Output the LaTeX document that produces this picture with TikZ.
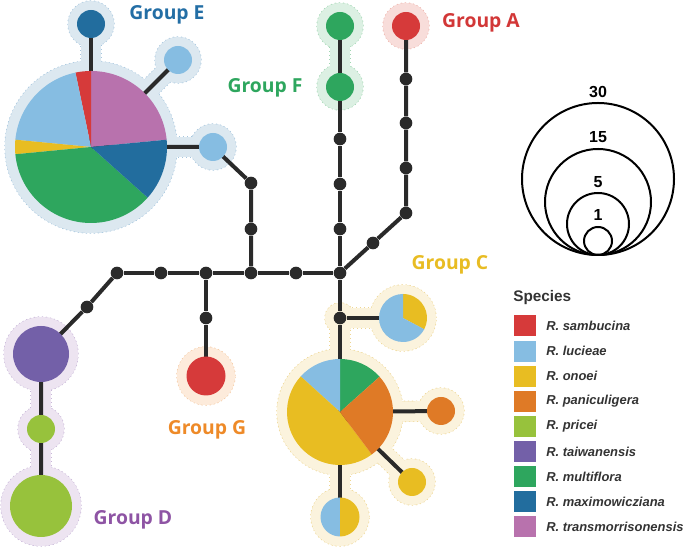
\documentclass[tikz,border=0pt]{standalone}
\usepackage{fontspec}
\setmainfont{Liberation Sans}
\newfontfamily\grpfont{Open Sans}
\usetikzlibrary{calc}
\definecolor{cRed}{HTML}{D63A3A}
\definecolor{cLBlue}{HTML}{86BDE2}
\definecolor{cYel}{HTML}{E8BD22}
\definecolor{cOra}{HTML}{DF7A26}
\definecolor{cLGreen}{HTML}{97C23C}
\definecolor{cPur}{HTML}{7360A8}
\definecolor{cGreen}{HTML}{2EA65E}
\definecolor{cDBlue}{HTML}{226D9E}
\definecolor{cPink}{HTML}{B872AD}
\definecolor{cEdge}{HTML}{2A2A2A}
\definecolor{tE}{HTML}{236EA5}
\definecolor{tF}{HTML}{2EA65E}
\definecolor{tA}{HTML}{D23737}
\definecolor{tC}{HTML}{E8BC23}
\definecolor{tD}{HTML}{8E54A4}
\definecolor{tG}{HTML}{EE8A28}
\definecolor{hE}{HTML}{DCE8F0}\definecolor{bE}{HTML}{A6C6DE}
\definecolor{hF}{HTML}{DCF0E3}\definecolor{bF}{HTML}{A0D6B2}
\definecolor{hA}{HTML}{F8DDDA}\definecolor{bA}{HTML}{EEB2AA}
\definecolor{hC}{HTML}{FBF3DD}\definecolor{bC}{HTML}{EED692}
\definecolor{hD}{HTML}{EDE4F1}\definecolor{bD}{HTML}{C8B6D8}
\definecolor{hG}{HTML}{FDEBDB}\definecolor{bG}{HTML}{F4C8A0}
\definecolor{cText}{HTML}{333333}
\pgfdeclarelayer{halo}
\pgfdeclarelayer{halofill}
\pgfdeclarelayer{edges}
\pgfsetlayers{halo,halofill,edges,main}
\newcommand\slice[5]{\fill[#5] (#1) -- ++(#3:#2) arc[start angle=#3, end angle=#4, radius=#2] -- cycle;}
\newcommand\hcirc[3]{\path[#1] (#2) circle[radius=#3];}
\newcommand\hbridge[3]{\path[#1] ($(#2)!7.5pt!90:(#3)$) -- ($(#3)!7.5pt!-90:(#2)$) -- ($(#3)!7.5pt!90:(#2)$) -- ($(#2)!7.5pt!-90:(#3)$) -- cycle;}
\newcommand\haloE[1]{\hcirc{#1}{Ec}{86}\hcirc{#1}{Et}{23}\hcirc{#1}{Eur}{23}\hcirc{#1}{Er}{23}\hbridge{#1}{Ec}{Et}\hbridge{#1}{Ec}{Eur}\hbridge{#1}{Ec}{Er}}
\newcommand\haloF[1]{\hcirc{#1}{F1}{23}\hcirc{#1}{F2}{23}\hbridge{#1}{F1}{F2}}
\newcommand\haloA[1]{\hcirc{#1}{A}{23}}
\newcommand\haloG[1]{\hcirc{#1}{G}{29}}
\newcommand\haloD[1]{\hcirc{#1}{Dp}{37}\hcirc{#1}{Ds}{23}\hcirc{#1}{Db}{40}\hbridge{#1}{Dp}{Ds}\hbridge{#1}{Ds}{Db}}
\newcommand\haloC[1]{\hcirc{#1}{Cc}{63}\hcirc{#1}{Csp}{33}\hcirc{#1}{Co}{23}\hcirc{#1}{Cy}{23}\hcirc{#1}{Cb}{29}\hcirc{#1}{C1}{15}\hbridge{#1}{C1}{Cc}\hbridge{#1}{C1}{Csp}\hbridge{#1}{Cc}{Co}\hbridge{#1}{Cc}{Cy}\hbridge{#1}{Cc}{Cb}}
\tikzset{
  dot/.style={circle, fill=cEdge, inner sep=0pt, minimum size=9.5pt},
  edge/.style={draw=cEdge, line width=3pt},
  grp/.style={font=\grpfont\bfseries\fontsize{14.5}{17}\selectfont},
  hb/.style={fill=#1, draw=#1, dotted, line width=1pt},
  hf/.style={fill=#1},
  lgtext/.style={anchor=west, text=cText, font=\bfseries\itshape\fontsize{9.7}{11}\selectfont},
  sizec/.style={draw=black, line width=1.5pt},
  sizel/.style={font=\bfseries\fontsize{12}{14}\selectfont}
}
\begin{document}
\begin{tikzpicture}[x=0.75pt,y=0.75pt]
\useasboundingbox (0,0) rectangle (685,548);
% haplotype centres
\coordinate (Ec) at (91,401);
\coordinate (Et) at (91,524);
\coordinate (Eur) at (178,488);
\coordinate (Er) at (213,401);
\coordinate (F1) at (340,522);
\coordinate (F2) at (340,461);
\coordinate (A) at (406,522);
\coordinate (Cc) at (340,136);
\coordinate (Csp) at (403,230);
\coordinate (Co) at (441,137);
\coordinate (Cy) at (412,66);
\coordinate (Cb) at (340,31);
\coordinate (C1) at (340,230);
\coordinate (Dp) at (41,194);
\coordinate (Ds) at (41,119);
\coordinate (Db) at (41,42);
\coordinate (G) at (206,172);
% halos
\begin{pgfonlayer}{halo}
\haloE{hb=bE}\haloF{hb=bF}\haloA{hb=bA}\haloG{hb=bG}\haloD{hb=bD}\haloC{hb=bC}
\end{pgfonlayer}
\begin{pgfonlayer}{halofill}
\haloE{hf=hE}\haloF{hf=hF}\haloA{hf=hA}\haloG{hf=hG}\haloD{hf=hD}\haloC{hf=hC}
\end{pgfonlayer}
% median vectors
\node[dot] (b1) at (117,275) {};
\node[dot] (b2) at (161,275) {};
\node[dot] (b3) at (206,275) {};
\node[dot] (b4) at (251,275) {};
\node[dot] (b5) at (296,275) {};
\node[dot] (J) at (340,275) {};
\node[dot] (d1) at (87,241) {};
\node[dot] (g1) at (206,230) {};
\node[dot] (e1) at (251,319) {};
\node[dot] (e2) at (251,365) {};
\node[dot] (f1) at (340,319) {};
\node[dot] (f2) at (340,364) {};
\node[dot] (f3) at (340,409) {};
\node[dot] (a1) at (373,305) {};
\node[dot] (a2) at (406,335) {};
\node[dot] (a3) at (406,380) {};
\node[dot] (a4) at (406,425) {};
\node[dot] (a5) at (406,469) {};
\node[dot] (c1) at (C1) {};
% edges
\begin{pgfonlayer}{edges}
\draw[edge] (b1) -- (b2) -- (b3) -- (b4) -- (b5) -- (J);
\draw[edge] (b1) -- (d1) -- (Dp) -- (Ds) -- (Db);
\draw[edge] (b3) -- (g1) -- (G);
\draw[edge] (b4) -- (e1) -- (e2) -- (Er) -- (Ec);
\draw[edge] (Ec) -- (Et);
\draw[edge] (Ec) -- (Eur);
\draw[edge] (J) -- (f1) -- (f2) -- (f3) -- (F2) -- (F1);
\draw[edge] (J) -- (a1) -- (a2) -- (a3) -- (a4) -- (a5) -- (A);
\draw[edge] (J) -- (c1) -- (Cc);
\draw[edge] (c1) -- (Csp);
\draw[edge] (Cc) -- (Co);
\draw[edge] (Cc) -- (Cy);
\draw[edge] (Cc) -- (Cb);
\end{pgfonlayer}
% Group E
\slice{Ec}{76}{5.5}{90}{cPink}
\slice{Ec}{76}{90}{101.8}{cRed}
\slice{Ec}{76}{101.8}{174.5}{cLBlue}
\slice{Ec}{76}{174.5}{185.5}{cYel}
\slice{Ec}{76}{185.5}{318.2}{cGreen}
\slice{Ec}{76}{318.2}{365.5}{cDBlue}
\fill[cDBlue] (Et) circle[radius=14];
\fill[cLBlue] (Eur) circle[radius=14];
\fill[cLBlue] (Er) circle[radius=14];
% Group F and A
\fill[cGreen] (F1) circle[radius=14];
\fill[cGreen] (F2) circle[radius=14];
\fill[cRed] (A) circle[radius=14];
% Group C
\slice{Cc}{53}{41.7}{90}{cGreen}
\slice{Cc}{53}{90}{137.8}{cLBlue}
\slice{Cc}{53}{137.8}{306.8}{cYel}
\slice{Cc}{53}{306.8}{401.7}{cOra}
\slice{Csp}{24}{-28}{90}{cYel}
\slice{Csp}{24}{90}{332}{cLBlue}
\fill[cOra] (Co) circle[radius=14];
\fill[cYel] (Cy) circle[radius=14];
\slice{Cb}{19.5}{90}{270}{cLBlue}
\slice{Cb}{19.5}{270}{450}{cYel}
% Group D and G
\fill[cPur] (Dp) circle[radius=28];
\fill[cLGreen] (Ds) circle[radius=14];
\fill[cLGreen] (Db) circle[radius=31];
\fill[cRed] (G) circle[radius=19.5];
% group labels
\node[grp, text=tE] (lE) at (167,533) {Group E};
\node[grp, text=tF] (lF) at (265,460) {Group F};
\node[grp, text=tA] (lA) at (481,525) {Group A};
\node[grp, text=tC] (lC) at (450,283) {Group C};
\node[grp, text=tG] (lG) at (207,118) {Group G};
\node[grp, text=tD] (lD) at (133,28) {Group D};
% size legend
\draw[sizec] (598,369) circle[radius=76];
\draw[sizec] (598,346) circle[radius=53];
\draw[sizec] (598,324) circle[radius=31];
\draw[sizec] (598,307) circle[radius=14];
\node[sizel] (s30) at (598,456) {30};
\node[sizel] (s15) at (598,411) {15};
\node[sizel] (s5) at (598,366) {5};
\node[sizel] (s1) at (598,333) {1};
% species legend
\node[anchor=west, text=cText, font=\bfseries\fontsize{11.5}{13}\selectfont, inner sep=0pt] (sp) at (513,250) {Species};
\foreach \col/\nm [count=\k from 0] in {cRed/sambucina, cLBlue/lucieae, cYel/onoei, cOra/paniculigera, cLGreen/pricei, cPur/taiwanensis, cGreen/multiflora, cDBlue/maximowicziana, cPink/transmorrisonensis}{
  \pgfmathsetmacro{\yy}{222-25.1*\k}
  \fill[\col] (514,\yy-10.5) rectangle (536,\yy+10.5);
  \node[lgtext, inner sep=0pt] (lg\k) at (546,\yy) {R. \nm};
}
\end{tikzpicture}
\end{document}
